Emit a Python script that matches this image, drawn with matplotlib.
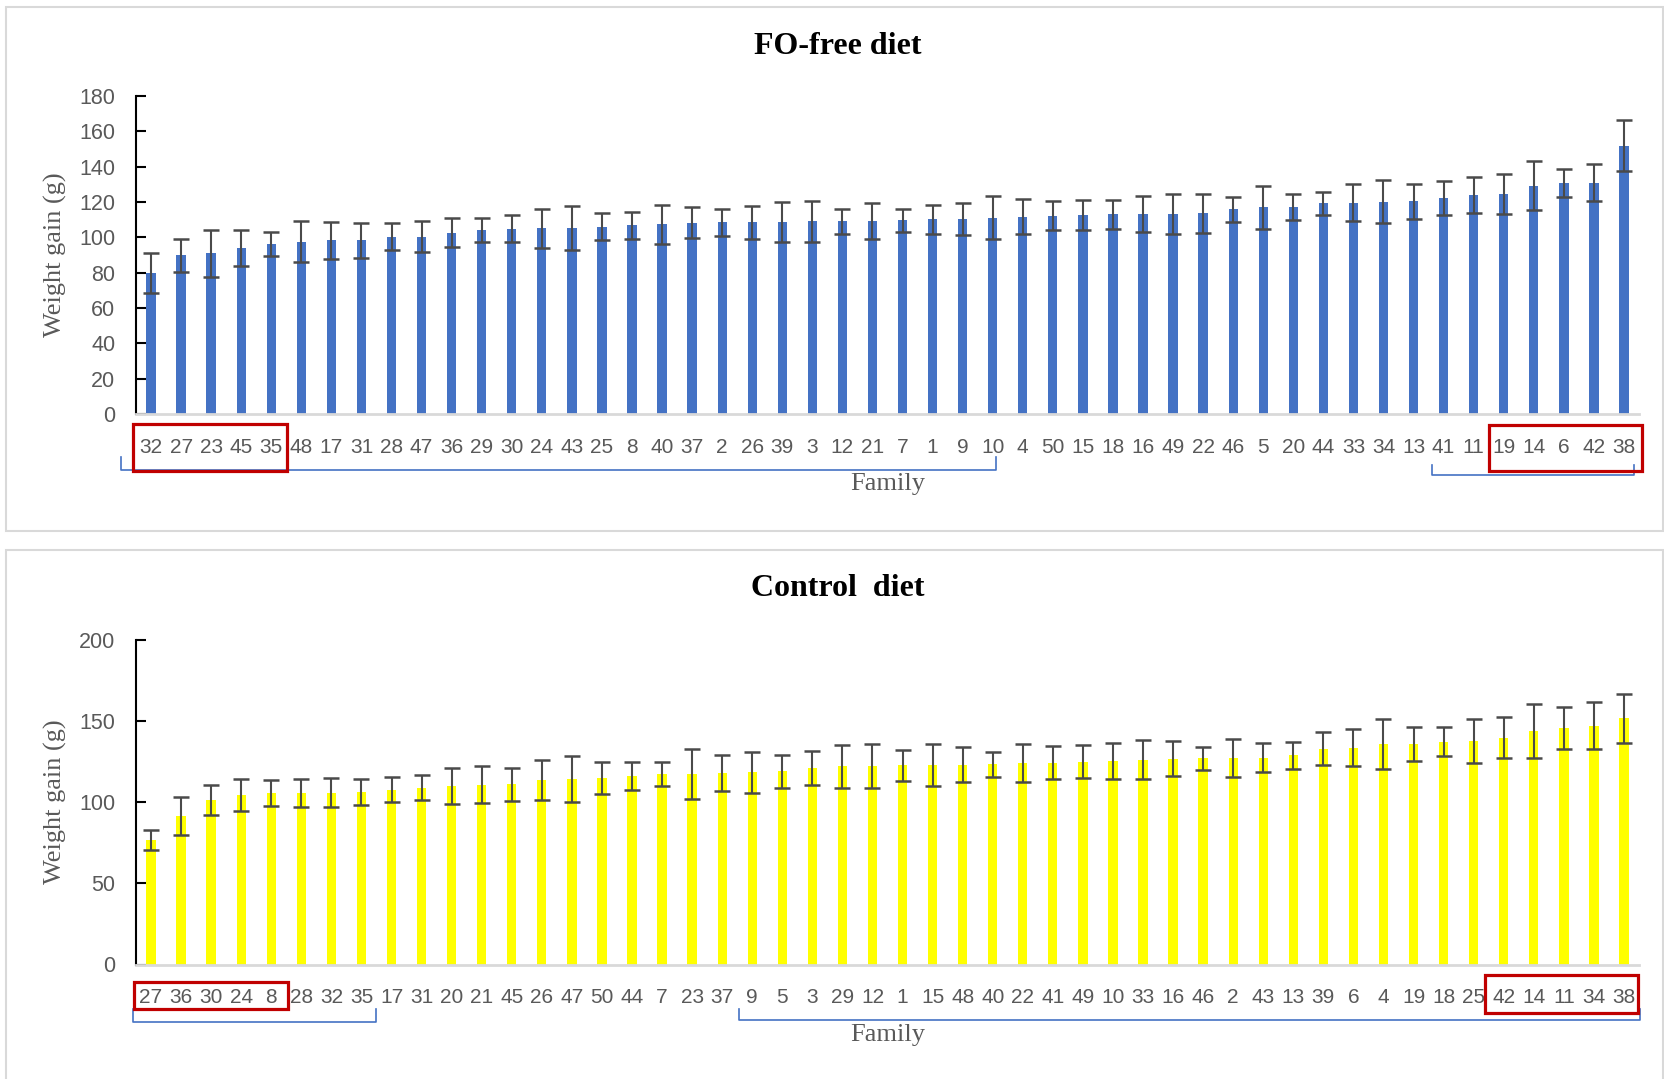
import numpy as np
import matplotlib.pyplot as plt
from matplotlib.patches import Rectangle
from matplotlib.transforms import blended_transform_factory

# FO-free diet (top panel)
fo_families = ['32', '27', '23', '45', '35', '48', '17', '31', '28', '47',
               '36', '29', '30', '24', '43', '25', '8', '40', '37', '2',
               '26', '39', '3', '12', '21', '7', '1', '9', '10', '4',
               '50', '15', '18', '16', '49', '22', '46', '5', '20', '44',
               '33', '34', '13', '41', '11', '19', '14', '6', '42', '38']
fo_gain = [79.9, 89.8, 91.0, 93.9, 96.2, 97.5, 98.3, 98.3, 100.4, 100.4,
           102.7, 104.2, 105.0, 105.2, 105.2, 106.1, 106.7, 107.3, 108.2, 108.6,
           108.6, 108.6, 109.0, 109.2, 109.2, 109.8, 110.2, 110.2, 111.1, 111.7,
           112.1, 112.8, 113.0, 113.4, 113.4, 113.6, 115.9, 117.0, 117.0, 119.2,
           119.5, 120.1, 120.3, 122.4, 124.1, 124.5, 129.3, 130.7, 131.0, 151.9]
fo_err = [11.4, 9.4, 13.2, 10.3, 7.0, 11.5, 10.5, 9.8, 7.8, 8.6,
          8.4, 7.0, 7.5, 11.0, 12.5, 7.4, 7.4, 11.2, 8.7, 7.7,
          9.3, 11.3, 11.7, 7.1, 10.0, 6.5, 8.2, 9.0, 12.2, 10.0,
          8.2, 8.6, 8.4, 10.2, 11.3, 10.9, 7.0, 12.2, 7.3, 6.7,
          10.5, 12.2, 9.9, 9.7, 10.1, 11.3, 14.0, 7.8, 10.3, 14.4]

# Control diet (bottom panel)
ctl_families = ['27', '36', '30', '24', '8', '28', '32', '35', '17', '31',
                '20', '21', '45', '26', '47', '50', '44', '7', '23', '37',
                '9', '5', '3', '29', '12', '1', '15', '48', '40', '22',
                '41', '49', '10', '33', '16', '46', '2', '43', '13', '39',
                '6', '4', '19', '18', '25', '42', '14', '11', '34', '38']
ctl_gain = [76.9, 91.6, 101.5, 104.4, 105.9, 105.9, 105.9, 106.3, 107.8, 109.2,
            110.1, 110.9, 111.1, 113.9, 114.3, 115.1, 116.4, 117.6, 117.6, 118.1,
            118.5, 119.1, 121.2, 122.3, 122.3, 122.9, 123.1, 123.3, 123.5, 124.4,
            124.6, 125.2, 125.6, 126.5, 126.9, 127.3, 127.5, 127.7, 129.0, 133.2,
            133.8, 136.1, 136.1, 137.4, 138.0, 139.9, 144.1, 145.8, 147.3, 151.9]
ctl_err = [6.2, 11.6, 9.2, 9.9, 7.9, 8.6, 8.9, 8.0, 7.7, 7.5,
           11.0, 11.4, 10.2, 12.5, 14.2, 9.7, 8.5, 7.3, 15.2, 10.9,
           12.7, 10.1, 10.3, 13.3, 13.5, 9.6, 13.2, 10.8, 7.8, 11.9,
           10.2, 10.3, 11.2, 12.3, 10.8, 7.2, 11.8, 8.7, 8.2, 10.3,
           11.5, 15.5, 10.6, 8.9, 13.4, 12.6, 16.5, 12.8, 14.5, 15.3]

gray = '#595959'
red = '#C00000'
lblue = '#4472C4'

fig = plt.figure(figsize=(16.65, 10.79), dpi=100)

# panel frames
fig.patches.append(Rectangle((6 / 1665, 1 - 531 / 1079), 1657 / 1665, 524 / 1079,
                             transform=fig.transFigure, fill=False,
                             edgecolor='#D9D9D9', lw=1.5))
fig.patches.append(Rectangle((6 / 1665, -0.01), 1657 / 1665, 1 - 550 / 1079 + 0.01,
                             transform=fig.transFigure, fill=False,
                             edgecolor='#D9D9D9', lw=1.5))


def draw_panel(ax, fams, gain, err, color, ymax, ystep):
    x = np.arange(len(fams))
    ax.bar(x, gain, width=0.31, color=color, zorder=2)
    ax.errorbar(x, gain, yerr=err, fmt='none', ecolor='#4a4a4a',
                elinewidth=1.5, capsize=6, capthick=1.8, zorder=3)
    ax.set_xlim(-0.5, len(fams) - 0.5)
    ax.set_ylim(0, ymax)
    ax.set_yticks(np.arange(0, ymax + 1, ystep))
    ax.set_xticks(x)
    ax.set_xticklabels(fams)
    for s in ['top', 'right']:
        ax.spines[s].set_visible(False)
    ax.spines['left'].set_color('black')
    ax.spines['left'].set_linewidth(1.5)
    ax.spines['bottom'].set_color('#D9D9D9')
    ax.spines['bottom'].set_linewidth(2)
    ax.tick_params(axis='y', direction='in', length=7, width=1.5, color='black',
                   labelsize=15.5, labelcolor=gray, pad=15)
    ax.tick_params(axis='x', length=0, labelsize=15, labelcolor=gray, pad=17)
    for t in ax.get_xticklabels() + ax.get_yticklabels():
        t.set_fontfamily('Liberation Sans')


def box(ax, x0, x1, y0, y1):
    tr = blended_transform_factory(ax.transData, ax.transAxes)
    ax.add_patch(Rectangle((x0, y1), x1 - x0, y0 - y1, transform=tr, fill=False,
                           edgecolor=red, lw=2.3, clip_on=False, zorder=5))


def bracket(ax, x0, x1, y, ytop):
    tr = blended_transform_factory(ax.transData, ax.transAxes)
    ax.plot([x0, x0, x1, x1], [ytop, y, y, ytop], transform=tr, color=lblue,
            lw=1.2, clip_on=False, zorder=4)


ax1 = fig.add_axes([136 / 1665, 1 - 414 / 1079, 1503 / 1665, 318 / 1079])
draw_panel(ax1, fo_families, fo_gain, fo_err, '#4472C4', 180, 20)
box(ax1, -0.6, 4.52, -0.031, -0.179)
box(ax1, 44.5, 49.6, -0.035, -0.179)
bracket(ax1, -1.0, 28.1, -0.176, -0.135)
bracket(ax1, 42.6, 49.33, -0.192, -0.16)

ax2 = fig.add_axes([136 / 1665, 1 - 964.5 / 1079, 1503 / 1665, 324.1 / 1079])
draw_panel(ax2, ctl_families, ctl_gain, ctl_err, '#FFFF00', 200, 50)
box(ax2, -0.57, 4.56, -0.054, -0.137)
box(ax2, 44.38, 49.47, -0.032, -0.150)
bracket(ax2, -0.6, 7.48, -0.177, -0.137)
bracket(ax2, 19.56, 49.53, -0.171, -0.137)

serif = 'Liberation Serif'
fig.text(838 / 1665, 1 - 46 / 1079, 'FO-free diet', ha='center', va='center',
         fontsize=23, fontweight='bold', family=serif)
fig.text(838 / 1665, 1 - 589 / 1079, 'Control  diet', ha='center', va='center',
         fontsize=23, fontweight='bold', family=serif)
fig.text(888 / 1665, 1 - 484 / 1079, 'Family', ha='center', va='center',
         fontsize=19, color=gray, family=serif)
fig.text(888 / 1665, 1 - 1035 / 1079, 'Family', ha='center', va='center',
         fontsize=19, color=gray, family=serif)
fig.text(55 / 1665, 1 - 255 / 1079, 'Weight gain (g)', ha='center', va='center',
         rotation=90, fontsize=19, color=gray, family=serif)
fig.text(55 / 1665, 1 - 802 / 1079, 'Weight gain (g)', ha='center', va='center',
         rotation=90, fontsize=19, color=gray, family=serif)

fig.savefig('out.png', dpi=100)
